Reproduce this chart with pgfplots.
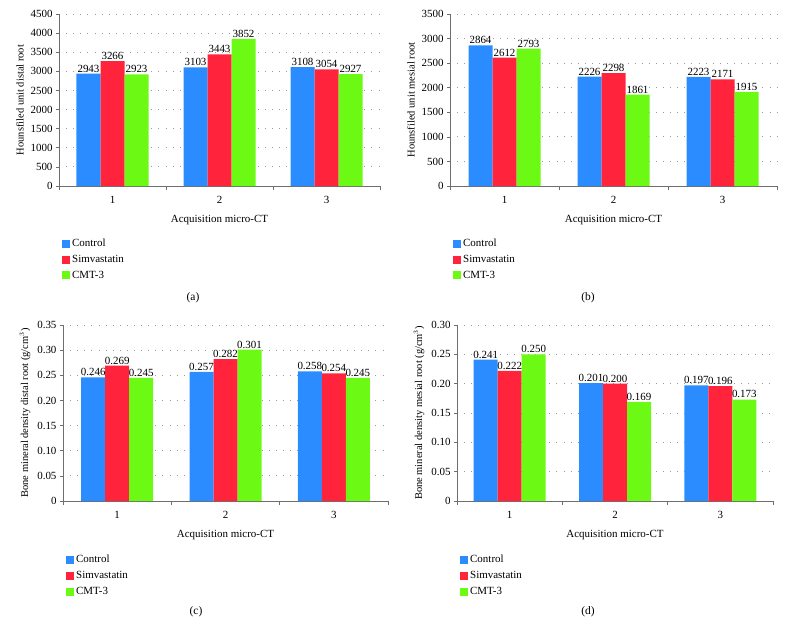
\documentclass[border=0pt]{standalone}
\usepackage{fontspec}
\setmainfont{Liberation Serif}
\usepackage{pgfplots}
\pgfplotsset{compat=1.18}
\definecolor{cblue}{RGB}{43,140,255}
\definecolor{cred}{RGB}{255,35,60}
\definecolor{cgreen}{RGB}{108,250,20}
\definecolor{axgray}{RGB}{110,110,110}
\pgfplotsset{
  /pgf/number format/assume math mode=true,
  mybar/.style={
    scale only axis,
    ybar=0pt, bar width=24bp,
    xmin=0.5, xmax=3.5, ymin=0,
    axis lines*=left,
    axis line style={axgray, line width=0.8pt},
    xtick={1,2,3},
    major x tick style={draw=none},
    minor xtick={0.5,1.5,2.5,3.5},
    minor x tick style={axgray, line width=0.6pt},
    minor tick length=4bp,
    major tick length=3bp,
    tick align=outside,
    ytick style={axgray, line width=0.6pt},
    ymajorgrids,
    grid style={dash pattern=on 0.9bp off 6.2bp, gray!80, line width=0.9pt},
    ticklabel style={font=\fontsize{11}{13}\selectfont},
    xticklabel style={yshift=-4bp},
    xlabel style={font=\fontsize{11}{13}\selectfont, yshift=-5bp},
    ylabel style={font=\fontsize{10.5}{12}\selectfont},
    xlabel={Acquisition micro-CT},
    nodes near coords,
    every node near coord/.append style={font=\fontsize{11}{13}\selectfont, inner sep=1.2pt, black},
    legend style={at={(0,-0.285)}, anchor=north west, draw=none, fill=none,
      font=\fontsize{11}{13}\selectfont, row sep=3pt, legend cell align=left},
    legend image code/.code={\fill[##1] (0bp,-4bp) rectangle (8bp,4bp);},
    clip=false,
  },
  intlab/.style={nodes near coords={\pgfmathprintnumber[fixed, precision=0, 1000 sep={}]{\pgfplotspointmeta}}},
  declab/.style={nodes near coords={\pgfmathprintnumber[fixed, fixed zerofill, precision=3]{\pgfplotspointmeta}}},
}
\begin{document}
\begin{tikzpicture}
\path[use as bounding box] (0bp,0bp) rectangle (785bp,-639bp);

% (a)
\begin{axis}[mybar, intlab, at={(59bp,-186bp)}, anchor=south west, width=321bp, height=172bp,
  ymax=4500, ytick={0,500,...,4500},
  yticklabel style={/pgf/number format/1000 sep={}},
  ylabel={Hounsfiled unit distal root}]
\addplot[fill=cblue, draw=none] coordinates {(1,2943) (2,3103) (3,3108)};
\addplot[fill=cred, draw=none] coordinates {(1,3266) (2,3443) (3,3054)};
\addplot[fill=cgreen, draw=none] coordinates {(1,2923) (2,3852) (3,2927)};
\legend{Control, Simvastatin, CMT-3}
\end{axis}

% (b)
\begin{axis}[mybar, intlab, at={(450bp,-186bp)}, anchor=south west, width=327bp, height=172bp,
  ymax=3500, ytick={0,500,...,3500},
  yticklabel style={/pgf/number format/1000 sep={}},
  ylabel={Hounsfiled unit mesial root}]
\addplot[fill=cblue, draw=none] coordinates {(1,2864) (2,2226) (3,2223)};
\addplot[fill=cred, draw=none] coordinates {(1,2612) (2,2298) (3,2171)};
\addplot[fill=cgreen, draw=none] coordinates {(1,2793) (2,1861) (3,1915)};
\legend{Control, Simvastatin, CMT-3}
\end{axis}

% (c)
\begin{axis}[mybar, declab, at={(63bp,-501bp)}, anchor=south west, width=325bp, height=176bp,
  ymax=0.35, ytick={0,0.05,0.10,0.15,0.20,0.25,0.30,0.35},
  yticklabels={0,0.05,0.10,0.15,0.20,0.25,0.30,0.35},
  ylabel={Bone mineral density distal root (g/cm$^{3}$)}]
\addplot[fill=cblue, draw=none] coordinates {(1,0.246) (2,0.257) (3,0.258)};
\addplot[fill=cred, draw=none] coordinates {(1,0.269) (2,0.282) (3,0.254)};
\addplot[fill=cgreen, draw=none] coordinates {(1,0.245) (2,0.301) (3,0.245)};
\legend{Control, Simvastatin, CMT-3}
\end{axis}

% (d)
\begin{axis}[mybar, declab, at={(457bp,-501bp)}, anchor=south west, width=316bp, height=176bp,
  ymax=0.30, ytick={0,0.05,0.10,0.15,0.20,0.25,0.30},
  yticklabels={0,0.05,0.10,0.15,0.20,0.25,0.30},
  ylabel={Bone mineral density mesial root (g/cm$^{3}$)}]
\addplot[fill=cblue, draw=none] coordinates {(1,0.241) (2,0.201) (3,0.197)};
\addplot[fill=cred, draw=none] coordinates {(1,0.222) (2,0.200) (3,0.196)};
\addplot[fill=cgreen, draw=none] coordinates {(1,0.250) (2,0.169) (3,0.173)};
\legend{Control, Simvastatin, CMT-3}
\end{axis}

\node[font=\fontsize{11.5}{13}\selectfont] at (193bp,-298bp) {(a)};
\node[font=\fontsize{11.5}{13}\selectfont] at (588bp,-298bp) {(b)};
\node[font=\fontsize{11.5}{13}\selectfont] at (196bp,-612bp) {(c)};
\node[font=\fontsize{11.5}{13}\selectfont] at (588bp,-612bp) {(d)};
\end{tikzpicture}
\end{document}
